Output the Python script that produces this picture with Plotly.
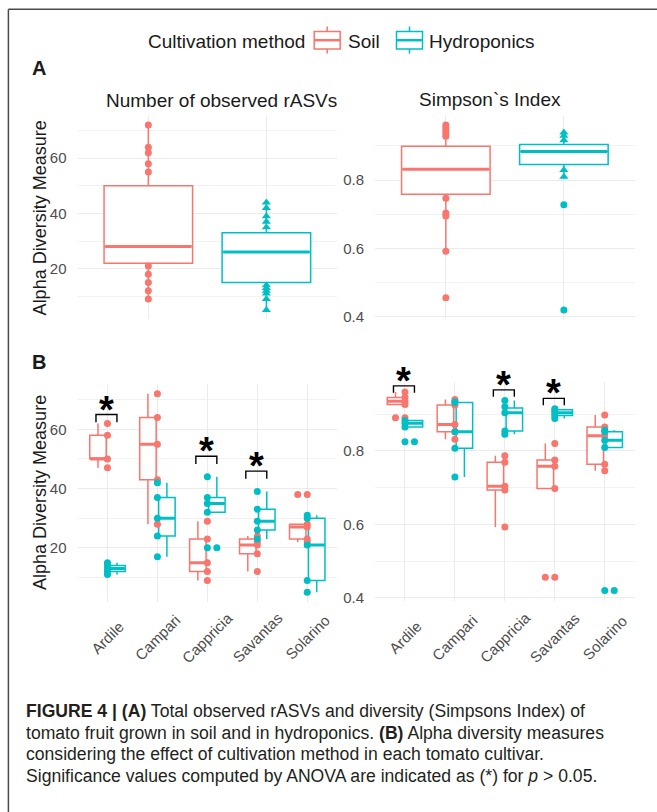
import plotly.graph_objects as go

W, H = 657, 812
SOIL = "#F8766D"
HYDRO = "#00BFC4"
FONT = "Liberation Sans, Arial, sans-serif"
TICK_COLOR = "#4D4D4D"
GRID = "#EBEBEB"

methods = ["Soil", "Hydroponics"]
cultivars = ["Ardile", "Campari", "Cappricia", "Savantas", "Solarino"]

# ---------------- Panel A : all samples per cultivation method ----------------
# Number of observed rASVs  (index 0 = Soil, 1 = Hydroponics)
a_obs_lo = [9, 5]
a_obs_q1 = [22, 15]
a_obs_med = [28, 26]
a_obs_q3 = [50, 33]
a_obs_hi = [72, 44]
a_obs_soil_pts = [72, 64, 62, 58, 55, 21, 18, 15, 12, 9]
a_obs_hydro_pts = [44, 42, 39, 37, 35, 14, 13, 12, 11, 9, 5]
a_obs_outliers = [[], []]

# Simpson's index
a_sim_lo = [0.592, 0.805]
a_sim_q1 = [0.759, 0.846]
a_sim_med = [0.832, 0.884]
a_sim_q3 = [0.899, 0.904]
a_sim_hi = [0.961, 0.939]
a_sim_soil_pts = [0.961, 0.953, 0.945, 0.937, 0.928, 0.747, 0.704, 0.695, 0.592]
a_sim_hydro_pts = [0.939, 0.930, 0.917, 0.830, 0.810]
a_sim_outliers = [[0.456], [0.728, 0.42]]

# ---------------- Panel B : per cultivar ----------------
# Observed rASVs, Soil
b_obs_soil_lo = [47, 28, 9, 12, 22]
b_obs_soil_q1 = [50, 43, 12, 18, 23]
b_obs_soil_med = [50, 55, 15, 21, 27]
b_obs_soil_q3 = [58, 64, 23, 23, 28]
b_obs_soil_hi = [62, 72, 29, 24, 28]
b_obs_soil_pts = [[62, 58, 50, 47], [72, 64, 55, 43, 28], [29, 23, 15, 12, 9],
                  [24, 22, 21, 18, 12], [38, 28, 27, 23, 22]]
b_obs_soil_out = [[], [], [], [], [38]]
# Observed rASVs, Hydroponics
b_obs_hydro_lo = [11, 17, 32, 23, 5]
b_obs_hydro_q1 = [12, 24, 32, 26, 9]
b_obs_hydro_med = [13, 30, 35, 29, 21]
b_obs_hydro_q3 = [14, 37, 37, 33, 30]
b_obs_hydro_hi = [15, 42, 44, 39, 31]
b_obs_hydro_pts = [[15, 14, 13, 12, 11], [42, 37, 30, 24, 17], [44, 37, 35, 32, 20],
                   [39, 33, 29, 26, 23], [31, 30, 21, 9, 5]]
b_obs_hydro_out = [[], [], [20], [], []]

# Simpson, Soil
b_sim_soil_lo = [0.926, 0.832, 0.593, 0.698, 0.746]
b_sim_soil_q1 = [0.926, 0.852, 0.694, 0.698, 0.764]
b_sim_soil_med = [0.935, 0.872, 0.704, 0.758, 0.841]
b_sim_soil_q3 = [0.945, 0.925, 0.769, 0.775, 0.865]
b_sim_soil_hi = [0.960, 0.940, 0.787, 0.820, 0.898]
b_sim_soil_pts = [[0.960, 0.945, 0.935, 0.926, 0.890], [0.940, 0.925, 0.872, 0.852, 0.832],
                  [0.787, 0.769, 0.704, 0.694, 0.593], [0.820, 0.775, 0.758, 0.698, 0.456],
                  [0.898, 0.865, 0.841, 0.764, 0.746]]
b_sim_soil_out = [[0.890], [], [], [0.456], []]
# Simpson, Hydroponics
b_sim_hydro_lo = [0.865, 0.729, 0.845, 0.888, 0.809]
b_sim_hydro_q1 = [0.865, 0.807, 0.854, 0.896, 0.809]
b_sim_hydro_med = [0.875, 0.852, 0.904, 0.904, 0.829]
b_sim_hydro_q3 = [0.883, 0.932, 0.917, 0.912, 0.852]
b_sim_hydro_hi = [0.883, 0.934, 0.937, 0.915, 0.856]
b_sim_hydro_pts = [[0.883, 0.875, 0.865, 0.825], [0.934, 0.932, 0.852, 0.807, 0.729],
                   [0.937, 0.920, 0.904, 0.854, 0.845], [0.915, 0.910, 0.904, 0.896, 0.888],
                   [0.856, 0.852, 0.829, 0.809, 0.420]]
b_sim_hydro_out = [[0.825], [], [], [], [0.420]]

# significance brackets (cultivar, bracket height)
sig_obs = [("Ardile", 65.0), ("Cappricia", 50.9), ("Savantas", 45.9)]
sig_sim = [("Ardile", 0.977), ("Cappricia", 0.966), ("Savantas", 0.943)]

# ---------------- helpers ----------------
def fx(px):
    return px / W

def fy(py):
    return 1 - py / H

def expand(vals):
    lo, hi = min(vals), max(vals)
    d = (hi - lo) * 0.05
    return [lo - d, hi + d]

fig = go.Figure()

def add_box(ax, pos, lo, q1, med, q3, hi, color, width):
    xa, ya = ax
    fig.add_trace(go.Box(x=pos, lowerfence=lo, q1=q1, median=med, q3=q3, upperfence=hi,
                         width=width, fillcolor="white", line=dict(color=color, width=1.5),
                         whiskerwidth=0, boxpoints=False, showlegend=False, hoverinfo="skip",
                         xaxis=xa, yaxis=ya))
    xs, ys = [], []
    for p, m in zip(pos, med):
        xs += [p - width / 2 + 0.01, p + width / 2 - 0.01, None]
        ys += [m, m, None]
    fig.add_trace(go.Scatter(x=xs, y=ys, mode="lines", line=dict(color=color, width=3),
                             showlegend=False, hoverinfo="skip", xaxis=xa, yaxis=ya))

def add_pts(ax, xs, ys, color, symbol="circle", size=7):
    xa, ya = ax
    fig.add_trace(go.Scatter(x=xs, y=ys, mode="markers",
                             marker=dict(color=color, size=size, symbol=symbol, line=dict(width=0)),
                             showlegend=False, hoverinfo="skip", xaxis=xa, yaxis=ya))

# ---- Panel A ----
A_OBS = ("x", "y")
A_SIM = ("x2", "y2")
B_OBS = ("x3", "y3")
B_SIM = ("x4", "y4")

colors = [SOIL, HYDRO]
for ax, lo, q1, med, q3, hi in [(A_OBS, a_obs_lo, a_obs_q1, a_obs_med, a_obs_q3, a_obs_hi),
                                (A_SIM, a_sim_lo, a_sim_q1, a_sim_med, a_sim_q3, a_sim_hi)]:
    for k in range(2):
        add_box(ax, [k], [lo[k]], [q1[k]], [med[k]], [q3[k]], [hi[k]], colors[k], 0.75)

add_pts(A_OBS, [0] * len(a_obs_soil_pts), a_obs_soil_pts, SOIL)
add_pts(A_OBS, [1] * len(a_obs_hydro_pts), a_obs_hydro_pts, HYDRO, "triangle-up", 8)
add_pts(A_SIM, [0] * len(a_sim_soil_pts), a_sim_soil_pts, SOIL)
add_pts(A_SIM, [1] * len(a_sim_hydro_pts), a_sim_hydro_pts, HYDRO, "triangle-up", 8)
for k in range(2):
    add_pts(A_OBS, [k] * len(a_obs_outliers[k]), a_obs_outliers[k], colors[k])
    add_pts(A_SIM, [k] * len(a_sim_outliers[k]), a_sim_outliers[k], colors[k])

# ---- Panel B ----
DODGE = 0.19
BW = 0.33
idx = list(range(len(cultivars)))
panelB = [
    (B_OBS,
     (b_obs_soil_lo, b_obs_soil_q1, b_obs_soil_med, b_obs_soil_q3, b_obs_soil_hi, b_obs_soil_pts, b_obs_soil_out),
     (b_obs_hydro_lo, b_obs_hydro_q1, b_obs_hydro_med, b_obs_hydro_q3, b_obs_hydro_hi, b_obs_hydro_pts, b_obs_hydro_out)),
    (B_SIM,
     (b_sim_soil_lo, b_sim_soil_q1, b_sim_soil_med, b_sim_soil_q3, b_sim_soil_hi, b_sim_soil_pts, b_sim_soil_out),
     (b_sim_hydro_lo, b_sim_hydro_q1, b_sim_hydro_med, b_sim_hydro_q3, b_sim_hydro_hi, b_sim_hydro_pts, b_sim_hydro_out)),
]
for ax, soil, hydro in panelB:
    for sgn, data, col in [(-1, soil, SOIL), (1, hydro, HYDRO)]:
        lo, q1, med, q3, hi, pts, out = data
        add_box(ax, [i + sgn * DODGE for i in idx], lo, q1, med, q3, hi, col, BW)
    for sgn, data, col in [(-1, soil, SOIL), (1, hydro, HYDRO)]:
        pts, out = data[5], data[6]
        px, py = [], []
        for i in idx:
            px += [i] * len(pts[i]); py += pts[i]
            px += [i + sgn * DODGE] * len(out[i]); py += out[i]
        add_pts(ax, px, py, col)

# significance brackets
annotations = []
shapes = []
for ax, sigs, tick in [(B_OBS, sig_obs, 2.6), (B_SIM, sig_sim, 0.019)]:
    xa, ya = ax
    xs, ys = [], []
    for name, yb in sigs:
        i = cultivars.index(name)
        xs += [i - 0.23, i - 0.23, i + 0.19, i + 0.19, None]
        ys += [yb - tick, yb, yb, yb - tick, None]
        annotations.append(dict(x=i - 0.02, y=yb, xref=xa, yref=ya, text="<b>*</b>", showarrow=False,
                                font=dict(size=38, color="black", family=FONT),
                                yanchor="middle", xanchor="center", yshift=5))
    fig.add_trace(go.Scatter(x=xs, y=ys, mode="lines", line=dict(color="black", width=1.4),
                             showlegend=False, hoverinfo="skip", xaxis=xa, yaxis=ya))

# ---------------- axes ----------------
obs_all = a_obs_soil_pts + a_obs_hydro_pts + a_obs_lo + a_obs_hi
sim_all = a_sim_soil_pts + a_sim_hydro_pts + a_sim_lo + a_sim_hi + sum(a_sim_outliers, [])
obs_b_all = sum(b_obs_soil_pts, []) + sum(b_obs_hydro_pts, []) + b_obs_soil_hi + b_obs_hydro_lo
sim_b_all = sum(b_sim_soil_pts, []) + sum(b_sim_hydro_pts, []) + b_sim_soil_hi + b_sim_hydro_lo

def xaxis(dom, n, labels):
    return dict(domain=dom, range=[-0.6, n - 1 + 0.6], tickmode="array", tickvals=list(range(n)),
                ticktext=labels, showticklabels=False, showgrid=True, gridcolor=GRID, gridwidth=1.2,
                zeroline=False, showline=False, ticks="", fixedrange=True)

def yaxis(dom, rng, dtick, anchor):
    return dict(domain=dom, range=rng, tick0=0, dtick=dtick, showgrid=True, gridcolor=GRID,
                gridwidth=1.2, zeroline=False, showline=False, ticks="", anchor=anchor,
                ticklabelstandoff=10,
                tickfont=dict(size=15, color=TICK_COLOR, family=FONT),
                minor=dict(tick0=0, dtick=dtick / 2, showgrid=True, gridcolor="#F2F2F2", gridwidth=0.7),
                fixedrange=True)

XL = [fx(77.5), fx(337.2)]
XR = [fx(375.0), fx(634.7)]
YA = [fy(321.7), fy(116.7)]
YBL = [fy(606.7), fy(386.7)]
YBR = [fy(605.0), fy(385.0)]

fig.update_layout(
    xaxis=dict(xaxis(XL, 2, methods), anchor="y"),
    yaxis=yaxis(YA, expand(obs_all), 20, "x"),
    xaxis2=dict(xaxis(XR, 2, methods), anchor="y2"),
    yaxis2=yaxis(YA, expand(sim_all), 0.2, "x2"),
    xaxis3=dict(xaxis(XL, 5, cultivars), anchor="y3"),
    yaxis3=yaxis(YBL, expand(obs_b_all), 20, "x3"),
    xaxis4=dict(xaxis(XR, 5, cultivars), anchor="y4"),
    yaxis4=yaxis(YBR, expand(sim_b_all), 0.2, "x4"),
)

# rotated category labels, centred under each category (ggplot hjust = 0.5)
for xa in ["x3", "x4"]:
    for i, name in enumerate(cultivars):
        annotations.append(dict(x=i, y=fy(642), xref=xa, yref="paper", text=name, showarrow=False,
                                textangle=-45, xanchor="center", yanchor="middle",
                                font=dict(size=15, color=TICK_COLOR, family=FONT)))

# ---------------- text ----------------
def txt(x, y, s, size, xanchor="left", color="#1A1A1A", angle=0, yanchor="middle"):
    annotations.append(dict(x=fx(x), y=fy(y), xref="paper", yref="paper", text=s, showarrow=False,
                            xanchor=xanchor, yanchor=yanchor, textangle=angle,
                            font=dict(size=size, color=color, family=FONT)))

txt(145.8, 42, "Cultivation method", 19)
txt(345.6, 42, "Soil", 19)
txt(427.3, 42, "Hydroponics", 19)
txt(30.2, 69, "<b>A</b>", 20)
txt(30.2, 365, "<b>B</b>", 20)
txt(221, 101, "Number of observed rASVs", 19, "center")
txt(490, 100, "Simpson`s Index", 19, "center")
txt(39.8, 219.2, "Alpha Diversity Measure", 18, "center", angle=-90)
txt(39.8, 495.8, "Alpha Diversity Measure", 18, "center", angle=-90)

caption = [
    "<b>FIGURE 4 | (A)</b> Total observed rASVs and diversity (Simpsons Index) of",
    "tomato fruit grown in soil and in hydroponics. <b>(B)</b> Alpha diversity measures",
    "considering the effect of cultivation method in each tomato cultivar.",
    "Significance values computed by ANOVA are indicated as (*) for <i>p</i> &gt; 0.05.",
]
for k, line in enumerate(caption):
    txt(24.3, 716 + 22 * k, line, 17.6, color="#231F20")

# legend keys
def legend_key(cx, color):
    shapes.append(dict(type="rect", xref="paper", yref="paper", x0=fx(cx - 13), x1=fx(cx + 13),
                       y0=fy(49.3), y1=fy(31.7), line=dict(color=color, width=1.5), fillcolor="white"))
    shapes.append(dict(type="line", xref="paper", yref="paper", x0=fx(cx - 13), x1=fx(cx + 13),
                       y0=fy(40.5), y1=fy(40.5), line=dict(color=color, width=2.5)))
    shapes.append(dict(type="line", xref="paper", yref="paper", x0=fx(cx), x1=fx(cx),
                       y0=fy(26.7), y1=fy(31.7), line=dict(color=color, width=1.5)))
    shapes.append(dict(type="line", xref="paper", yref="paper", x0=fx(cx), x1=fx(cx),
                       y0=fy(49.3), y1=fy(54), line=dict(color=color, width=1.5)))

legend_key(327.2, SOIL)
legend_key(409.5, HYDRO)

# frame
shapes.append(dict(type="line", xref="paper", yref="paper", x0=fx(8.4), x1=1.02, y0=fy(9.3), y1=fy(9.3),
                   line=dict(color="#4A4A4A", width=1.5)))
shapes.append(dict(type="line", xref="paper", yref="paper", x0=fx(8.4), x1=fx(8.4), y0=fy(9.3), y1=-0.02,
                   line=dict(color="#4A4A4A", width=1.5)))

fig.update_layout(
    width=W, height=H, margin=dict(l=0, r=0, t=0, b=0),
    paper_bgcolor="white", plot_bgcolor="white",
    boxmode="overlay", showlegend=False,
    annotations=annotations, shapes=shapes,
    font=dict(family=FONT),
)

fig.write_html("out.html")
